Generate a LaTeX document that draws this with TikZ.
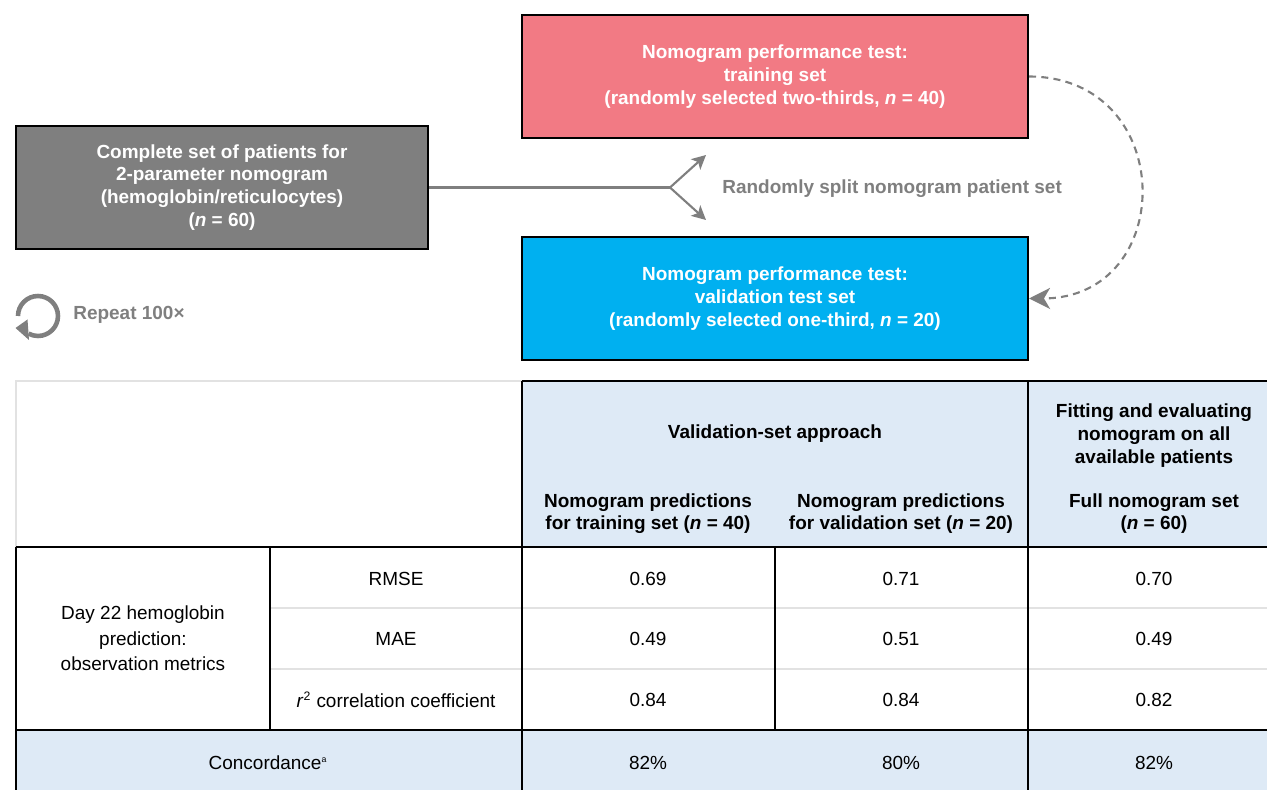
\documentclass[tikz,border=0pt]{standalone}
\usepackage{fontspec}
\setmainfont{Liberation Sans}
\usepackage{amsmath}
\usetikzlibrary{arrows.meta}

\definecolor{boxgray}{HTML}{7F7F7F}
\definecolor{trainred}{HTML}{F27A84}
\definecolor{validblue}{HTML}{00B0F0}
\definecolor{headblue}{HTML}{DEEAF6}
\definecolor{arrowgray}{HTML}{7F7F7F}
\definecolor{rulegray}{HTML}{E2E2E2}

\begin{document}
\begin{tikzpicture}[x=0.02cm, y=-0.02cm,
        font=\fontsize{10.8}{13}\selectfont,
        flowbox/.style={draw=black, line width=1.2pt, text=white, font=\fontsize{10.8}{13}\selectfont\bfseries, align=center, inner sep=0pt, minimum height=2.46cm},
        graytext/.style={text=arrowgray, font=\fontsize{10.8}{13}\selectfont\bfseries, inner sep=0pt},
        splitline/.style={draw=arrowgray, line width=1.2pt},
        cell/.style={align=center, inner sep=0pt},
        headcell/.style={cell, font=\fontsize{10.8}{12.6}\selectfont\bfseries},
        rule/.style={draw=black, line width=1.3pt},
        thinrule/.style={draw=rulegray, line width=0.7pt}]

        \useasboundingbox (0,0) rectangle (1267,790);
        \clip (0,0) rectangle (1267,790);

        % boxes of the split
        \node[flowbox, fill=boxgray, minimum width=8.24cm] (patients) at (222,187.5) {Complete set of patients for\\2-parameter nomogram\\(hemoglobin/reticulocytes)\\(\textit{n} = 60)};
        \node[flowbox, fill=trainred, minimum width=10.12cm] (train) at (775,76.5) {Nomogram performance test:\\training set\\(randomly selected two-thirds, \textit{n} = 40)};
        \node[flowbox, fill=validblue, minimum width=10.12cm] (valid) at (775,298.5) {Nomogram performance test:\\validation test set\\(randomly selected one-third, \textit{n} = 20)};

        % fork arrows
        \coordinate (fork) at (670,187.5);
        \coordinate (toTrain) at (706,155);
        \coordinate (toValid) at (706,220);
        \draw[splitline] (patients.east) -- (fork);
        \draw[splitline, -{Stealth[length=8pt, width=8pt, inset=2pt]}] (fork) -- (toTrain);
        \draw[splitline, -{Stealth[length=8pt, width=8pt, inset=2pt]}] (fork) -- (toValid);
        \node[graytext, anchor=west] (split) at (722,188.5) {Randomly split nomogram patient set};

        % train -> validation loop
        \draw[splitline, dash pattern=on 4pt off 3pt, -{Stealth[length=12pt, width=12pt, inset=3.5pt]}] (train.east) .. controls (1178,77) and (1178,298) .. (valid.east);

        % repeat icon
        \draw[draw=arrowgray, line width=2.6pt] (18,316) arc[start angle=180, end angle=-118, radius=0.4cm];
        \fill[arrowgray] (15.5,328) -- (27.5,319.5) -- (29,340) -- cycle;
        \node[graytext, anchor=west] (repeat) at (73,315) {Repeat 100×};

        % table shading
        \fill[headblue] (522,381) rectangle (1300,547);
        \fill[headblue] (16,730) rectangle (1300,800);

        % table rules
        \draw[draw=rulegray, line width=1pt] (16,547) -- (16,381) -- (522,381);
        \draw[thinrule] (270,608) -- (1300,608);
        \draw[thinrule] (270,669) -- (1300,669);
        \draw[rule] (522,381) -- (1300,381);
        \draw[rule] (16,547) -- (1300,547);
        \draw[rule] (16,730) -- (1300,730);
        \draw[rule] (16,547) -- (16,800);
        \draw[rule] (270,547) -- (270,730);
        \draw[rule] (522,381) -- (522,800);
        \draw[rule] (775,547) -- (775,730);
        \draw[rule] (1028,381) -- (1028,800);

        % table header
        \node[headcell] (approach) at (775,434) {Validation-set approach};
        \node[headcell] (headTrain) at (648,513.5) {Nomogram predictions\\for training set (\textit{n} = 40)};
        \node[headcell] (headValid) at (901,513.5) {Nomogram predictions\\for validation set (\textit{n} = 20)};
        \node[headcell, font=\fontsize{10.8}{13}\selectfont\bfseries] (headAll) at (1154,435.5) {Fitting and evaluating\\nomogram on all\\available patients};
        \node[headcell] (headFull) at (1154,513.5) {Full nomogram set\\(\textit{n} = 60)};

        % table body
        \node[cell, font=\fontsize{10.8}{14.5}\selectfont] (metrics) at (143,638.5) {Day 22 hemoglobin\\prediction:\\observation metrics};
        \node[cell] (rmse) at (396,579) {RMSE};
        \node[cell] (mae) at (396,639) {MAE};
        \node[cell] (rsq) at (396,700) {\textit{r}\textsuperscript{\scriptsize 2} correlation coefficient};
        \node[cell] (rmseTrain) at (648,579) {0.69};
        \node[cell] (rmseValid) at (901,579) {0.71};
        \node[cell] (rmseFull) at (1154,579) {0.70};
        \node[cell] (maeTrain) at (648,639) {0.49};
        \node[cell] (maeValid) at (901,639) {0.51};
        \node[cell] (maeFull) at (1154,639) {0.49};
        \node[cell] (rsqTrain) at (648,700) {0.84};
        \node[cell] (rsqValid) at (901,700) {0.84};
        \node[cell] (rsqFull) at (1154,700) {0.82};
        \node[cell] (concord) at (268,763) {Concordance\textsuperscript{\tiny a}};
        \node[cell] (concTrain) at (648,763) {82\%};
        \node[cell] (concValid) at (901,763) {80\%};
        \node[cell] (concFull) at (1154,763) {82\%};
\end{tikzpicture}
\end{document}
